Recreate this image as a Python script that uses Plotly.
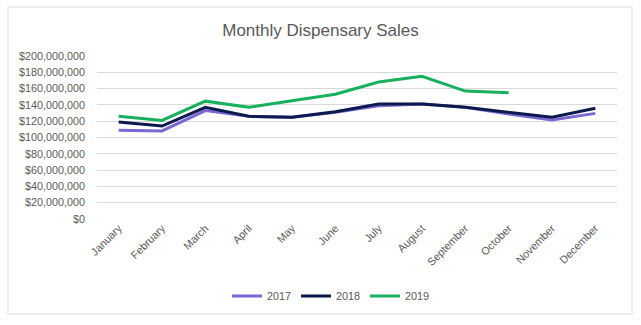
import plotly.graph_objects as go

months = ["January", "February", "March", "April", "May", "June", "July",
          "August", "September", "October", "November", "December"]
sales_2017 = [109e6, 108e6, 133e6, 126e6, 125e6, 131e6, 139e6, 141e6, 137e6, 128.7e6, 121.5e6, 129.6e6]
sales_2018 = [119e6, 114e6, 137e6, 126e6, 125e6, 131.5e6, 141e6, 141e6, 137e6, 131e6, 125e6, 136e6]
sales_2019 = [126e6, 121e6, 144.6e6, 137e6, 145e6, 153e6, 168e6, 175e6, 157e6, 155e6]
y_ticks = [i * 20e6 for i in range(11)]
y_tick_labels = ["$0"] + ["${:,.0f}".format(v) for v in y_ticks[1:]]

series = [("2017", sales_2017, "#7B68D3"), ("2018", sales_2018, "#0C1A4E"), ("2019", sales_2019, "#17B05C")]

fig = go.Figure()
for name, vals, col in series:
    fig.add_trace(go.Scatter(x=months[:len(vals)], y=vals, name=name, mode="lines",
                             line=dict(color=col, width=3)))

L, R, T, B = 97, 24, 56, 106
W, H = 641, 325
pw, ph = W - L - R, H - T - B

def px_x(px):
    return (px - L) / pw

def px_y(py):
    return (H - B - py) / ph

fig.add_shape(type="rect", xref="paper", yref="paper",
              x0=px_x(8), x1=px_x(632), y0=px_y(314), y1=px_y(7),
              line=dict(color="#D9D9D9", width=1), fillcolor="rgba(0,0,0,0)", layer="below")

fig.update_layout(
    width=W, height=H,
    margin=dict(l=L, r=R, t=T, b=B, autoexpand=False),
    paper_bgcolor="white", plot_bgcolor="white",
    title=dict(text="Monthly Dispensary Sales", x=0.5, xref="container", xanchor="center",
               y=1 - 30 / H, yanchor="middle",
               font=dict(family="Liberation Sans", size=17, color="#595959")),
    font=dict(family="Liberation Sans", color="#595959", size=10.8),
    xaxis=dict(type="category", categoryorder="array", categoryarray=months,
               tickangle=-45, showgrid=False, showline=False, zeroline=False,
               range=[-0.5, 11.5], tickfont=dict(size=10.8, color="#595959")),
    yaxis=dict(range=[0, 200e6], tickvals=y_ticks, ticktext=y_tick_labels,
               showgrid=True, gridcolor="#D9D9D9", gridwidth=1, zeroline=False,
               showline=False, ticklabelstandoff=11,
               tickfont=dict(size=10.8, color="#595959")),
    legend=dict(orientation="h", x=px_x(331), xanchor="center", xref="paper",
                y=px_y(296), yanchor="middle", font=dict(size=10.8, color="#595959"),
                itemwidth=30, tracegroupgap=0),
    showlegend=True,
)

fig.write_html("out.html")
